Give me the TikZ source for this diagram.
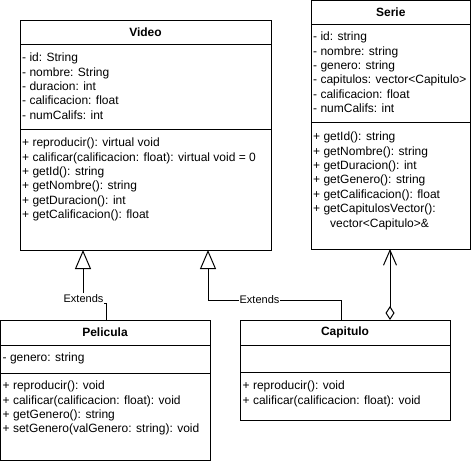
\documentclass[tikz,border=0pt]{standalone}
\usepackage{fontspec}
\setmainfont{Liberation Sans}
\usetikzlibrary{arrows.meta}
\begin{document}
\begin{tikzpicture}[x=1pt,y=-1pt,
  cbox/.style={draw=black,line width=1pt,fill=white,anchor=north west,inner sep=0pt,outer sep=0pt},
  sep/.style={draw=black,line width=1pt},
  ctitle/.style={anchor=base,inner sep=0pt,font=\fontsize{12}{14.4}\selectfont\bfseries},
  ctext/.style={anchor=north west,inner sep=0pt,align=left,font=\fontsize{12}{14.4}\selectfont},
  edge/.style={draw=black,line width=1pt},
  inh/.style={edge,-{Triangle[open,length=19pt,width=16pt]}},
  agg/.style={edge,{Straight Barb[length=15pt,width=13pt]}-{Diamond[open,length=14pt,width=9pt]}},
  lbl/.style={fill=white,inner sep=1pt,font=\fontsize{11}{13}\selectfont}
]
\useasboundingbox[fill=white] (0,0) rectangle (471,461);

% ---------- Video ----------
\node[cbox,minimum width=251pt,minimum height=230pt] (video) at (20,20) {};
\draw[sep] (20,44) -- (271,44);
\draw[sep] (20,129) -- (271,129);
\node[ctitle] (videot) at (145.5,36.3) {Video};
\node[ctext] (videoa) at (22,51.4) {\strut- id: String\\- nombre: String\\- duracion: int\\- calificacion: float\\- numCalifs: int};
\node[ctext] (videom) at (22,136.4) {\strut+ reproducir(): virtual void\\+ calificar(calificacion: float): virtual void = 0\\+ getId(): string\\+ getNombre(): string\\+ getDuracion(): int\\+ getCalificacion(): float};

% ---------- Serie ----------
\node[cbox,minimum width=159.5pt,minimum height=248.5pt] (serie) at (311,0.5) {};
\draw[sep] (311,24) -- (470.5,24);
\draw[sep] (311,122) -- (470.5,122);
\node[ctitle] (seriet) at (390.75,16.3) {Serie};
\node[ctext] (seriea) at (313,30.4) {\strut- id: string\\- nombre: string\\- genero: string\\- capitulos: vector<Capitulo>\\- calificacion: float\\- numCalifs: int};
\node[ctext] (seriem) at (313,130.4) {\strut+ getId(): string\\+ getNombre(): string\\+ getDuracion(): int\\+ getGenero(): string\\+ getCalificacion(): float\\+ getCapitulosVector():\\\hspace*{17pt}vector<Capitulo>\&};

% ---------- Pelicula ----------
\node[cbox,minimum width=209.5pt,minimum height=140pt] (pelicula) at (0.5,320) {};
\draw[sep] (0.5,345) -- (210,345);
\draw[sep] (0.5,373) -- (210,373);
\node[ctitle] (pelit) at (105,336) {Pelicula};
\node[ctext] (pelia) at (2.5,351.4) {\strut- genero: string};
\node[ctext] (pelim) at (2.5,379.4) {\strut+ reproducir(): void\\+ calificar(calificacion: float): void\\+ getGenero(): string\\+ setGenero(valGenero: string): void};

% ---------- Capitulo ----------
\node[cbox,minimum width=210pt,minimum height=100pt] (capitulo) at (240,320) {};
\draw[sep] (240,345) -- (450,345);
\draw[sep] (240,372) -- (450,372);
\node[ctitle] (capt) at (345,335.5) {Capitulo};
\node[ctext] (capm) at (242.5,379.4) {\strut+ reproducir(): void\\+ calificar(calificacion: float): void};

% ---------- Connectors ----------
\draw[inh] ([xshift=105.5pt]pelicula.north west) -- ++(0,-17) -| ([xshift=63pt]video.south west);
\node[lbl] (ext1) at (83.5,298.5) {Extends};

\draw[inh] ([xshift=101pt]capitulo.north west) -- ++(0,-20) -| ([xshift=188pt]video.south west);
\node[lbl] (ext2) at (259.5,300) {Extends};

\draw[agg] ([xshift=79pt]serie.south west) -- ([xshift=150pt]capitulo.north west);
\end{tikzpicture}
\end{document}
